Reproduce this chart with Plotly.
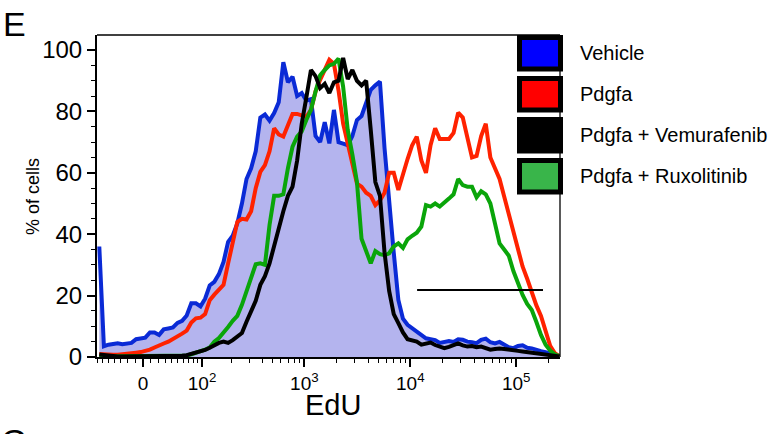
import numpy as np
import plotly.graph_objects as go

# ---- data -------------------------------------------------------------
series_names = ["Vehicle", "Pdgfa", "Pdgfa + Vemurafenib", "Pdgfa + Ruxolitinib"]
legend_colors = ["#0000ff", "#ff0000", "#000000", "#39b54a"]
line_colors = {"Vehicle": "#0a2ad6", "Pdgfa": "#ff2200",
               "Pdgfa + Vemurafenib": "#000000", "Pdgfa + Ruxolitinib": "#0aa50a"}
vehicle_fill = "#b4b4ee"

# histogram bin centres on the biexponential display scale, asinh(EdU/60)
display_bins = [round(-0.95 + 0.1 * k, 2) for k in range(101)]

vehicle = [36, 3.5, 4.0, 4.4, 4.5, 4.2, 4.3, 4.6, 5.8, 6.1,
           6.3, 8.0, 8.0, 7.2, 9.0, 9.3, 9.6, 11.1, 11.8, 13.5,
           17.5, 17.5, 16.5, 19, 23.3, 24.5, 27, 31, 37.5, 39.5,
           43.5, 50, 58, 61.5, 67, 78, 79, 77, 79.5, 83,
           96, 89.5, 91.3, 85, 86, 83.5, 84, 72, 70, 76.5,
           69.6, 80.5, 70, 69.5, 69, 72, 77.2, 78.5, 83, 87,
           88.5, 89.7, 68, 50, 34, 18.6, 12.5, 10.5, 9.4, 8.2,
           6.8, 6.1, 5.8, 5.5, 4.6, 5.0, 5.2, 4.9, 5.8, 5.6,
           5.0, 4.8, 4.5, 5.6, 6.0, 4.8, 4.4, 4.9, 4.2, 3.2,
           2.9, 3.6, 3.8, 3.0, 2.8, 2.2, 1.9, 1.6, 1.0, 0.6, 0.3]

pdgfa = [1.0, 0.8, 0.7, 0.7, 0.7, 0.8, 1.0, 1.2, 1.4, 1.6,
         1.9, 2.4, 3.1, 3.9, 4.4, 5.0, 5.8, 6.9, 7.6, 8.6,
         11.2, 12.6, 12.8, 14, 18.5, 20.3, 22, 23.5, 30.5, 37,
         44, 45, 44.8, 47.5, 55, 60.3, 62.5, 67, 74.5, 72.5,
         71.8, 75.5, 79.2, 79.2, 78.6, 78.2, 80.5, 86.5, 90.3, 93.3,
         96.8, 95.5, 86.8, 76, 69.2, 62.5, 56.5, 55.5, 53.5, 52.5,
         49.5, 51, 53.5, 60, 60, 54.4, 60, 64.5, 69, 71.8,
         64, 60, 69, 74.5, 71, 71, 71, 73, 79.6, 78,
         72, 65, 65.5, 72, 76, 65, 61.5, 58, 52.3, 46.5,
         41, 34.8, 29.5, 25.5, 21, 16.8, 13.4, 8.4, 3.6, 1.3, 0.2]

vemurafenib = [0.8, 0.6, 0.3, 0.2, 0.2, 0.2, 0.2, 0.2, 0.2, 0.2,
               0.2, 0.2, 0.2, 0.2, 0.2, 0.2, 0.2, 0.2, 0.4, 0.6,
               1.0, 1.5, 1.9, 2.3, 3.0, 3.9, 4.6, 5.0, 4.6, 5.5,
               6.6, 7.8, 11.5, 14.8, 18.3, 23.5, 26.3, 30.5, 36.5, 42,
               47.5, 52.5, 55.5, 64, 76, 84.5, 93.5, 91.5, 87.6, 89,
               86, 89.5, 90, 97.4, 90.5, 93.5, 90, 88.5, 90, 74,
               57, 52.5, 34, 21.5, 14, 11, 8, 5.8, 5.5, 5.0,
               4.0, 4.5, 4.7, 3.9, 3.3, 2.9, 3.3, 3.8, 4.4, 3.8,
               3.4, 3.6, 3.2, 3.4, 3.0, 2.4, 2.6, 2.8, 2.6, 2.3,
               2.3, 2.0, 1.8, 1.6, 1.4, 1.2, 1.0, 0.8, 0.6, 0.4, 0.2]

ruxolitinib = [0.2, 0.2, 0.2, 0.2, 0.2, 0.2, 0.2, 0.2, 0.2, 0.2,
               0.2, 0.2, 0.2, 0.2, 0.2, 0.2, 0.2, 0.2, 0.3, 0.5,
               0.9, 1.3, 1.8, 2.4, 3.1, 5.0, 6.2, 7.8, 9.8, 11.8,
               13.4, 17, 21.5, 26.5, 30.2, 30.5, 30, 43, 52.5, 52.5,
               53, 61.5, 68.5, 71.8, 73.5, 77.2, 80.5, 86.5, 91.8, 93.5,
               95, 95.5, 97.2, 88, 74, 66, 57, 38.5, 34, 30.5,
               34.5, 33.5, 33.2, 33.8, 36, 37, 35.5, 38.3, 39.5, 40.5,
               42.5, 49.5, 49, 50, 49, 50.5, 51.6, 53, 58, 56,
               55.5, 55.5, 52, 54, 53, 50, 43, 37, 35, 33,
               28, 24, 20.2, 17.3, 15.3, 11.4, 7.2, 4.0, 2.1, 0.9, 0.3]

series_values = {"Vehicle": vehicle, "Pdgfa": pdgfa,
                 "Pdgfa + Vemurafenib": vemurafenib,
                 "Pdgfa + Ruxolitinib": ruxolitinib}

# gate marker (EdU range and height in % of cells)
gate_edu = [11600, 179000]
gate_pct = [21.8, 21.8]

# axis ticks (EdU values)
tick_edu = [0, 100, 1000, 10000, 100000]
tick_text = ["0", "10<sup>2</sup>", "10<sup>3</sup>", "10<sup>4</sup>", "10<sup>5</sup>"]
minor_edu = ([-70, -60, -50, -40, -30, -20, -10] +
             [10, 20, 30, 40, 50, 60, 70, 80, 90] +
             [200, 300, 400, 500, 600, 700, 800, 900] +
             [2000, 3000, 4000, 5000, 6000, 7000, 8000, 9000] +
             [20000, 30000, 40000, 50000, 60000, 70000, 80000, 90000] +
             [200000])
x_range_edu = [-70.5, 259000]
y_ticks = [0, 20, 40, 60, 80, 100]


def biex(v):
    """biexponential-like display transform for EdU intensity"""
    return np.arcsinh(np.asarray(v, dtype=float) / 60.0)


# ---- figure -----------------------------------------------------------
FONT = "Arial, Liberation Sans, Helvetica, sans-serif"
fig = go.Figure()

fig.add_trace(go.Scatter(x=display_bins, y=vehicle, mode="lines",
                         line=dict(width=0, color=vehicle_fill),
                         fill="tozeroy", fillcolor=vehicle_fill,
                         hoverinfo="skip", showlegend=False))

for name in ["Vehicle", "Pdgfa", "Pdgfa + Ruxolitinib", "Pdgfa + Vemurafenib"]:
    fig.add_trace(go.Scatter(x=display_bins, y=series_values[name], mode="lines",
                             name=name, line=dict(color=line_colors[name], width=4),
                             showlegend=False))

fig.add_trace(go.Scatter(x=biex(gate_edu), y=gate_pct, mode="lines",
                         line=dict(color="black", width=2), showlegend=False,
                         hoverinfo="skip"))

fig.update_xaxes(range=list(biex(x_range_edu)), tickmode="array",
                 tickvals=list(biex(tick_edu)), ticktext=tick_text,
                 ticks="outside", ticklen=8, tickwidth=1.5, tickcolor="black",
                 showline=True, linecolor="black", linewidth=2,
                 showgrid=False, zeroline=False,
                 tickfont=dict(family=FONT, size=19, color="black"),
                 minor=dict(tickmode="array", tickvals=list(biex(minor_edu)),
                            ticks="outside", ticklen=4, tickwidth=1.2,
                            tickcolor="black", showgrid=False))

fig.update_yaxes(range=[0, 104.9], tickmode="array", tickvals=y_ticks,
                 ticks="outside", ticklen=8, tickwidth=1.5, tickcolor="black",
                 showline=True, linecolor="black", linewidth=2,
                 showgrid=False, zeroline=False,
                 tickfont=dict(family=FONT, size=24, color="black"),
                 minor=dict(dtick=5, ticks="outside", ticklen=4, tickwidth=1.2,
                            tickcolor="black", showgrid=False))

# plot frame (top / right)
L, R, T, B = 97, 560, 35, 357
W, H = R - L, B - T


def px(x):
    return (x - L) / W


def py(y):
    return (B - y) / H


shapes = [dict(type="line", xref="paper", yref="paper", x0=0, x1=1, y0=1, y1=1,
               line=dict(color="black", width=1.3)),
          dict(type="line", xref="paper", yref="paper", x0=1, x1=1, y0=0, y1=1,
               line=dict(color="black", width=1.3))]

annotations = []
for i, (name, col) in enumerate(zip(series_names, legend_colors)):
    top = 35 + 41 * i
    shapes.append(dict(type="rect", xref="paper", yref="paper",
                       x0=px(519.5), x1=px(560.5), y0=py(top + 2.5), y1=py(top + 34),
                       fillcolor=col, line=dict(color="black", width=5), layer="above"))
    annotations.append(dict(text=name, xref="paper", yref="paper",
                            x=px(578), y=py(top + 18.3), xanchor="left", yanchor="middle",
                            showarrow=False,
                            font=dict(family=FONT, size=20, color="black")))

annotations += [
    dict(text="E", xref="paper", yref="paper", x=px(14), y=py(24),
         xanchor="center", yanchor="middle", showarrow=False,
         font=dict(family=FONT, size=34, color="black")),
    dict(text="% of cells", xref="paper", yref="paper", x=px(33), y=py(197),
         xanchor="center", yanchor="middle", textangle=-90, showarrow=False,
         font=dict(family=FONT, size=18, color="black")),
    dict(text="EdU", xref="paper", yref="paper", x=px(333), y=py(405),
         xanchor="center", yanchor="middle", showarrow=False,
         font=dict(family=FONT, size=29, color="black")),
    dict(text="G", xref="paper", yref="paper", x=px(14), y=py(441),
         xanchor="center", yanchor="middle", showarrow=False,
         font=dict(family=FONT, size=34, color="black")),
]

fig.update_layout(width=784, height=434,
                  margin=dict(l=L, r=784 - R, t=T, b=434 - B, pad=0),
                  paper_bgcolor="white", plot_bgcolor="white",
                  shapes=shapes, annotations=annotations, showlegend=False)

fig.write_html("out.html")
